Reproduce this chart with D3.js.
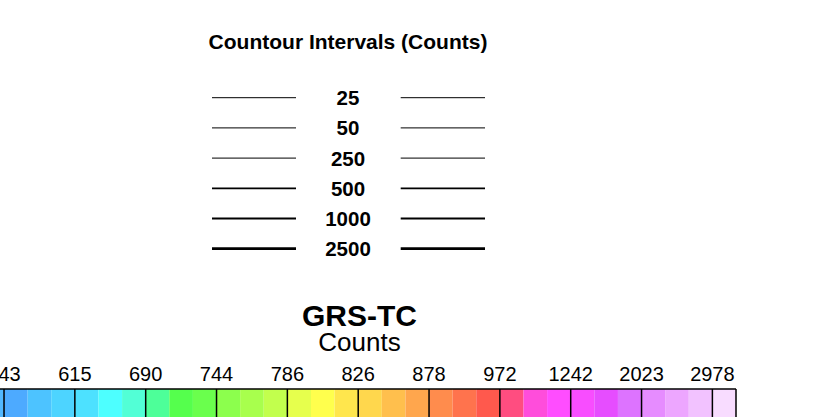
<!DOCTYPE html>
<html>
<head>
<meta charset="utf-8">
<script src="https://cdn.jsdelivr.net/npm/d3@7"></script>
<style>
  html, body { margin: 0; padding: 0; background: #fff; }
  #chart { width: 816px; height: 417px; overflow: hidden; }
  text { font-family: "Liberation Sans", Arial, Helvetica, sans-serif; fill: #000; }
</style>
</head>
<body>
<div id="chart"></div>
<script>
// contour legend
const contourTitle = 'Countour Intervals (Counts)';
const contourLevels = [25, 50, 250, 500, 1000, 2500];

// colour bar
const barTitle = 'GRS-TC';
const barUnits = 'Counts';
const barLabels = ['543', '615', '690', '744', '786', '826', '878', '972', '1242', '2023', '2978'];
const barColors = [
    '#52b8ff',
    '#4daaff', '#4dc3ff', '#4dd4ff',
    '#4de1ff', '#4dffff', '#52ffd6',
    '#4dff99', '#55ff4d', '#6aff4d',
    '#8cff4d', '#a8ff4d', '#c2ff4d',
    '#e6ff4d', '#ffff4d', '#ffe64d',
    '#ffd74d', '#ffbf4d', '#ffa64d',
    '#ff8c4d', '#ff734d', '#ff594d',
    '#ff4d80', '#ff4ddb', '#ff4dff',
    '#f84dff', '#e64dff', '#dd73ff',
    '#e68cff', '#eda6ff', '#f2c2ff',
    '#f8dcff'
];

const settings = {
    width: 816,
    height: 417,
    legend: {
        titleX: 348, titleY: 49,
        labelX: 348,
        rowTop: 97.7, rowBottom: 248.7,
        leftLine: [212, 296],
        rightLine: [400.7, 485],
        lineWidths: [1, 1, 1, 1.8, 2, 2.8],
    },
    bar: {
        left: -19.6, right: 736,
        top: 389, bottom: 440,
        firstTick: 1, tickStep: 3,
        labelY: 381,
        titleX: 359.5, titleY: 326, unitsY: 351,
    }
};

const svg = d3.select('#chart')
    .append('svg')
    .attr('width', settings.width)
    .attr('height', settings.height);

//CONTOUR LEGEND ---------------------------------------------------------------
function drawContourLegend(){
    const { legend } = settings;
    const g = svg.append('g').attr('class', 'contour-legend');

    g.append('text')
        .attr('x', legend.titleX)
        .attr('y', legend.titleY)
        .attr('text-anchor', 'middle')
        .style('font-size', '21px')
        .style('font-weight', 'bold')
        .text(contourTitle);

    const yScale = d3.scalePoint()
        .domain(contourLevels)
        .range([legend.rowTop, legend.rowBottom]);

    const widthScale = d3.scaleOrdinal()
        .domain(contourLevels)
        .range(legend.lineWidths);

    const rows = g.selectAll('.row')
        .data(contourLevels)
        .enter()
        .append('g')
        .attr('class', 'row');

    [legend.leftLine, legend.rightLine].forEach(([x1, x2]) => {
        rows.append('line')
            .attr('x1', x1)
            .attr('x2', x2)
            .attr('y1', d => yScale(d))
            .attr('y2', d => yScale(d))
            .attr('stroke', '#000')
            .attr('stroke-width', d => widthScale(d));
    });

    rows.append('text')
        .attr('x', legend.labelX)
        .attr('y', d => yScale(d) + 7.5)
        .attr('text-anchor', 'middle')
        .style('font-size', '20.5px')
        .style('font-weight', 'bold')
        .text(d => d);
}

//COLOUR BAR -------------------------------------------------------------------
function drawColorBar(){
    const { bar } = settings;
    const g = svg.append('g').attr('class', 'color-bar');

    g.append('text')
        .attr('x', bar.titleX)
        .attr('y', bar.titleY)
        .attr('text-anchor', 'middle')
        .style('font-size', '30px')
        .style('font-weight', 'bold')
        .text(barTitle);

    g.append('text')
        .attr('x', bar.titleX)
        .attr('y', bar.unitsY)
        .attr('text-anchor', 'middle')
        .style('font-size', '26px')
        .text(barUnits);

    const xScale = d3.scaleLinear()
        .domain([0, barColors.length])
        .range([bar.left, bar.right]);

    g.selectAll('.cell')
        .data(barColors)
        .enter()
        .append('rect')
        .attr('class', 'cell')
        .attr('x', (d, i) => xScale(i))
        .attr('y', bar.top)
        .attr('width', (d, i) => xScale(i + 1) - xScale(i))
        .attr('height', bar.bottom - bar.top)
        .attr('fill', d => d);

    const tickIdx = barLabels.map((d, i) => bar.firstTick + i * bar.tickStep);

    g.selectAll('.sep')
        .data(tickIdx.concat([barColors.length]))
        .enter()
        .append('line')
        .attr('class', 'sep')
        .attr('x1', d => xScale(d))
        .attr('x2', d => xScale(d))
        .attr('y1', bar.top)
        .attr('y2', bar.bottom)
        .attr('stroke', '#000')
        .attr('stroke-width', 1.5);

    g.append('line')
        .attr('x1', xScale(0))
        .attr('x2', xScale(barColors.length))
        .attr('y1', bar.top)
        .attr('y2', bar.top)
        .attr('stroke', '#000')
        .attr('stroke-width', 1.5);

    g.selectAll('.tick-label')
        .data(barLabels)
        .enter()
        .append('text')
        .attr('class', 'tick-label')
        .attr('x', (d, i) => xScale(tickIdx[i]))
        .attr('y', bar.labelY)
        .attr('text-anchor', 'middle')
        .style('font-size', '20px')
        .text(d => d);
}

drawContourLegend();
drawColorBar();
</script>
</body>
</html>
